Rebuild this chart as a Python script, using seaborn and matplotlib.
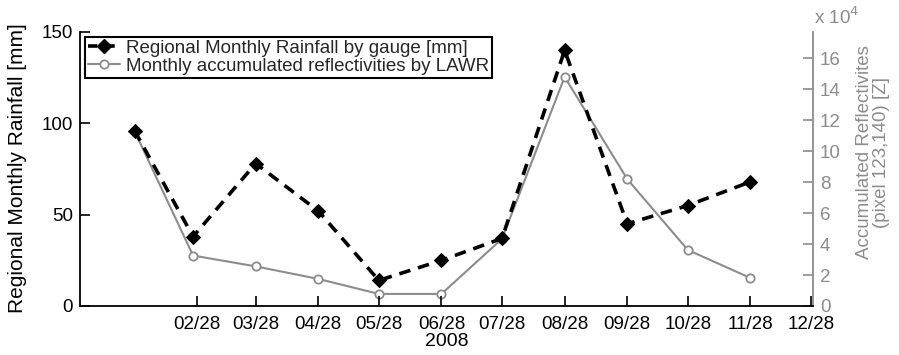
import matplotlib
matplotlib.use("Agg")
import matplotlib.pyplot as plt
import matplotlib.dates as mdates
import matplotlib.ticker as mticker
from matplotlib.lines import Line2D
import numpy as np
import pandas as pd
import seaborn as sns

# ---- data ----
dates = ["2008-01-28", "2008-02-26", "2008-03-28", "2008-04-28", "2008-05-28",
         "2008-06-28", "2008-07-28", "2008-08-28", "2008-09-28", "2008-10-28",
         "2008-11-28"]
gauge_mm = [96, 38, 78, 52, 14, 25, 37, 140, 45, 55, 68]
reflect_z = [113000, 32600, 25600, 17500, 7800, 7800, 43400, 148000, 82000, 36200, 18100]
tick_dates = ["2008-02-28", "2008-03-28", "2008-04-28", "2008-05-28", "2008-06-28",
              "2008-07-28", "2008-08-28", "2008-09-28", "2008-10-28", "2008-11-28",
              "2008-12-28"]
left_ticks = [0, 50, 100, 150]
right_ticks = [0, 20000, 40000, 60000, 80000, 100000, 120000, 140000, 160000]

label_gauge = "Regional Monthly Rainfall by gauge [mm]"
label_refl = "Monthly accumulated reflectivities by LAWR"

df = pd.DataFrame({"date": pd.to_datetime(dates), "gauge": gauge_mm, "refl": reflect_z})

sns.set_theme(style="white")
plt.rcParams["font.family"] = ["Liberation Sans", "DejaVu Sans"]

GRAY = "#8c8c8c"
DASH = (0, (3.2, 2.2))
fig = plt.figure(figsize=(8.99, 3.55), dpi=100)
ax = fig.add_axes([80 / 899, 1 - 306 / 355, (813 - 80) / 899, (306 - 32) / 355])
ax2 = ax.twinx()

sns.lineplot(data=df, x="date", y="gauge", ax=ax, color="black", linewidth=2.6,
             linestyle=DASH, marker="D", markersize=7.5,
             markerfacecolor="black", markeredgecolor="black",
             legend=False, zorder=3)
sns.lineplot(data=df, x="date", y="refl", ax=ax2, color=GRAY, linewidth=1.5,
             marker="o", markersize=6, markerfacecolor="white",
             markeredgecolor=GRAY, markeredgewidth=1.3,
             legend=False, zorder=2)
ax.set_zorder(ax2.get_zorder() + 1)
ax.patch.set_visible(False)

ax.set_xlim(pd.Timestamp("2008-01-01"), pd.Timestamp("2008-12-29"))
ax.set_ylim(0, 150)
ax2.set_ylim(0, 177000)

ax.set_xticks(pd.to_datetime(tick_dates))
ax.xaxis.set_major_formatter(mdates.DateFormatter("%m/%d"))
ax.set_yticks(left_ticks)
ax2.set_yticks(right_ticks)
ax2.yaxis.set_major_formatter(mticker.FuncFormatter(lambda v, p: f"{v/1e4:.0f}"))

for a in (ax, ax2):
    a.spines["top"].set_visible(False)
ax.spines["right"].set_visible(False)
ax2.spines["left"].set_visible(False)
ax2.spines["bottom"].set_visible(False)
for s in ("left", "bottom"):
    ax.spines[s].set_color("black")
    ax.spines[s].set_linewidth(1.3)
ax2.spines["right"].set_color(GRAY)
ax2.spines["right"].set_linewidth(1.3)

ax.tick_params(axis="both", direction="in", length=7, width=1.2, colors="black",
               labelsize=13.5, pad=5)
ax.tick_params(axis="x", bottom=True, top=False, pad=7)
ax.tick_params(axis="y", left=True, right=False)
ax2.tick_params(axis="y", direction="in", length=7, width=1.2, colors=GRAY,
                labelcolor=GRAY, labelsize=13.5, pad=5, right=True)

ax.set_xlabel("2008", fontsize=14, color="black", labelpad=0)
ax.set_ylabel("Regional Monthly Rainfall [mm]", fontsize=15, color="black", va="center")
ax.yaxis.set_label_coords(-0.0859, 0.504)
ax2.set_ylabel("Accumulated Reflectivites\n(pixel 123,140) [Z]", fontsize=13.5,
               color=GRAY, linespacing=1.05, va="center")
ax2.yaxis.set_label_coords(1.0818, 0.562)
fig.text(814 / 899, 1 - 17 / 355, r"x 10$^4$", color=GRAY, fontsize=13.5,
         ha="left", va="center")

handles = [
    Line2D([], [], color="black", linewidth=2.6, linestyle=(0, (2.6, 2.2)),
           marker="D", markersize=7.5, markerfacecolor="black", markeredgecolor="black"),
    Line2D([], [], color=GRAY, linewidth=1.5, marker="o", markersize=6,
           markerfacecolor="white", markeredgecolor=GRAY, markeredgewidth=1.3),
]
leg = ax.legend(handles, [label_gauge, label_refl], loc="upper left",
                bbox_to_anchor=(0.0, 1.0), fontsize=13.5, frameon=True,
                fancybox=False, handlelength=1.75, handletextpad=0.3,
                borderpad=0.15, labelspacing=0.05, borderaxespad=0.25)
leg.get_frame().set_edgecolor("black")
leg.get_frame().set_linewidth(1.5)
leg.get_frame().set_alpha(1)

fig.savefig("out.png", dpi=100)
